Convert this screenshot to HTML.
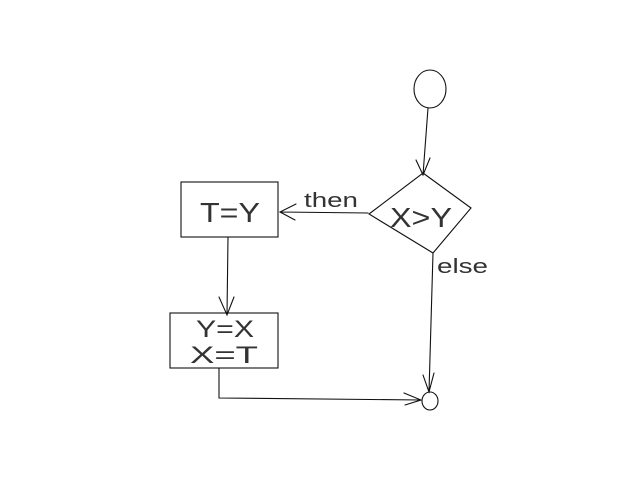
<!DOCTYPE html>
<html><head><meta charset="utf-8"><style>
html,body{margin:0;padding:0;background:#fff;width:640px;height:480px;overflow:hidden}
svg{display:block}
text{font-family:"Liberation Sans",sans-serif;fill:#333;stroke:none}
</style></head><body>
<svg width="640" height="480" viewBox="0 0 640 480" fill="none" stroke="#111" stroke-width="1.1" stroke-linecap="round">
<ellipse cx="430" cy="89" rx="16" ry="19"/>
<path d="M428 108 L423 175 M416 160 L423 175 L430 158"/>
<path d="M423 173 L471 208 L433 253 L369 214 Z"/>
<text x="390" y="227" font-size="28" textLength="62" lengthAdjust="spacingAndGlyphs">X&gt;Y</text>
<path d="M368 213 L280 212 M296 204 L280 212 L295 220"/>
<text x="304" y="207" font-size="20" textLength="54" lengthAdjust="spacingAndGlyphs">then</text>
<rect x="181" y="182" width="97" height="55"/>
<text x="200" y="222" font-size="28" textLength="60" lengthAdjust="spacingAndGlyphs">T=Y</text>
<path d="M228 237 L227 315 M219 297 L227 315 L234 297"/>
<rect x="170" y="313" width="108" height="55"/>
<text x="196" y="337" font-size="24" textLength="58" lengthAdjust="spacingAndGlyphs">Y=X</text>
<text x="190" y="363" font-size="24" textLength="68" lengthAdjust="spacingAndGlyphs">X=T</text>
<text x="437" y="273" font-size="20" textLength="51" lengthAdjust="spacingAndGlyphs">else</text>
<path d="M433 253 L429 392 M423 375 L429 392 L434 373"/>
<path d="M219 368 L219 398 L421 400 M404 393 L421 400 L405 405"/>
<ellipse cx="430" cy="401" rx="8" ry="9"/>
</svg>
</body></html>
